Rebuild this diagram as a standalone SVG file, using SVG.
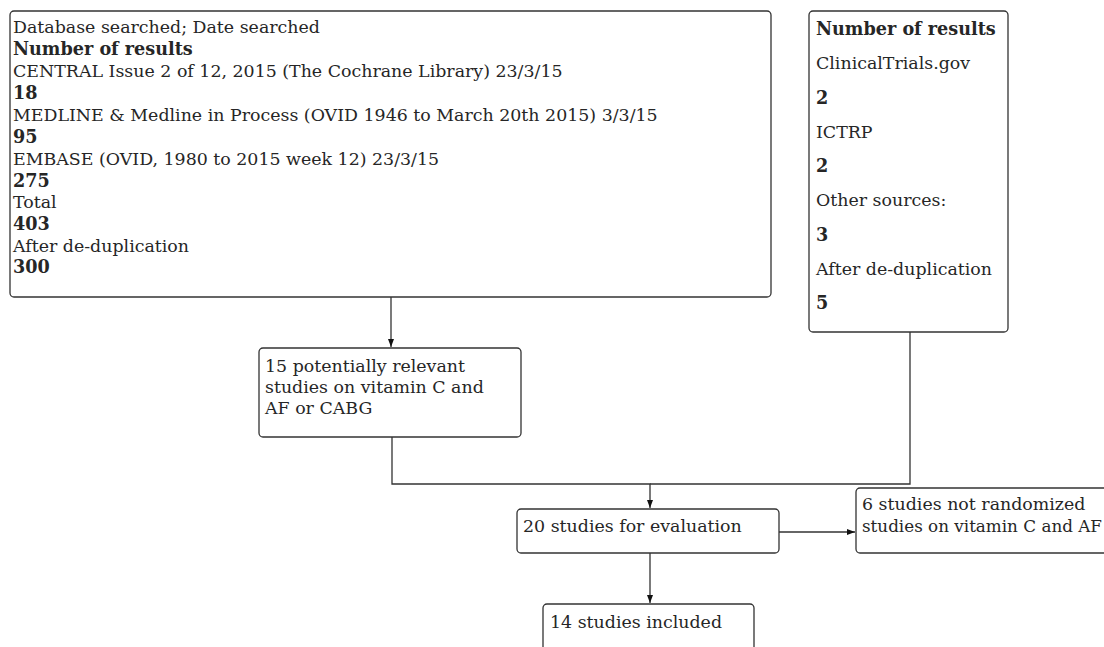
<svg xmlns="http://www.w3.org/2000/svg" width="1104" height="647" viewBox="0 0 1104 647">
<style>
  .box { fill: #ffffff; stroke: #333333; stroke-width: 1.3; }
  text { font-family: "DejaVu Serif", "Liberation Serif", serif; font-size: 17.4px; fill: #262626; }
  .b { font-weight: bold; font-size: 17.6px; }
  .conn { fill: none; stroke: #333333; stroke-width: 1.3; }
</style>
<defs>
  <marker id="arr" markerWidth="9" markerHeight="8" refX="8" refY="4" orient="auto" markerUnits="userSpaceOnUse">
    <path d="M0,1 L8,4 L0,7 Z" fill="#111111"/>
  </marker>
</defs>
<rect width="1104" height="647" fill="#ffffff"/>
<g id="connectors">
  <path class="conn" d="M391,297 V347" marker-end="url(#arr)"/>
  <path class="conn" d="M392,437 V484 H650 V508" marker-end="url(#arr)"/>
  <path class="conn" d="M910,332 V484 H650"/>
  <path class="conn" d="M779,532 H855" marker-end="url(#arr)"/>
  <path class="conn" d="M650,553 V603" marker-end="url(#arr)"/>
</g>
<g id="databases">
  <rect class="box" x="10" y="11" width="761" height="286" rx="4"/>
  <text x="13" y="33">Database searched; Date searched</text>
  <text x="13" y="55" class="b">Number of results</text>
  <text x="13" y="77">CENTRAL Issue 2 of 12, 2015 (The Cochrane Library) 23/3/15</text>
  <text x="13" y="99" class="b">18</text>
  <text x="13" y="121">MEDLINE &amp; Medline in Process (OVID 1946 to March 20th 2015) 3/3/15</text>
  <text x="13" y="143" class="b">95</text>
  <text x="13" y="165">EMBASE (OVID, 1980 to 2015 week 12) 23/3/15</text>
  <text x="13" y="187" class="b">275</text>
  <text x="13" y="208">Total</text>
  <text x="13" y="230" class="b">403</text>
  <text x="13" y="252">After de-duplication</text>
  <text x="13" y="273" class="b">300</text>
</g>
<g id="other-sources">
  <rect class="box" x="809" y="11" width="199" height="321" rx="4"/>
  <text x="816" y="35" class="b">Number of results</text>
  <text x="816" y="69">ClinicalTrials.gov</text>
  <text x="816" y="104" class="b">2</text>
  <text x="816" y="138">ICTRP</text>
  <text x="816" y="172" class="b">2</text>
  <text x="816" y="206">Other sources:</text>
  <text x="816" y="241" class="b">3</text>
  <text x="816" y="275">After de-duplication</text>
  <text x="816" y="309" class="b">5</text>
</g>
<g id="potentially-relevant">
  <rect class="box" x="259" y="348" width="262" height="89" rx="4"/>
  <text x="265" y="372">15 potentially relevant</text>
  <text x="265" y="393">studies on vitamin C and</text>
  <text x="265" y="414">AF or CABG</text>
</g>
<g id="evaluation">
  <rect class="box" x="517" y="509" width="262" height="44" rx="4"/>
  <text x="523" y="532">20 studies for evaluation</text>
</g>
<g id="not-randomized">
  <rect class="box" x="856" y="488" width="270" height="65" rx="4"/>
  <text x="862" y="510">6 studies not randomized</text>
  <text x="862" y="532" textLength="240" lengthAdjust="spacingAndGlyphs">studies on vitamin C and AF</text>
</g>
<g id="included">
  <rect class="box" x="543" y="604" width="211" height="60" rx="4"/>
  <text x="550" y="628">14 studies included</text>
</g>
</svg>
